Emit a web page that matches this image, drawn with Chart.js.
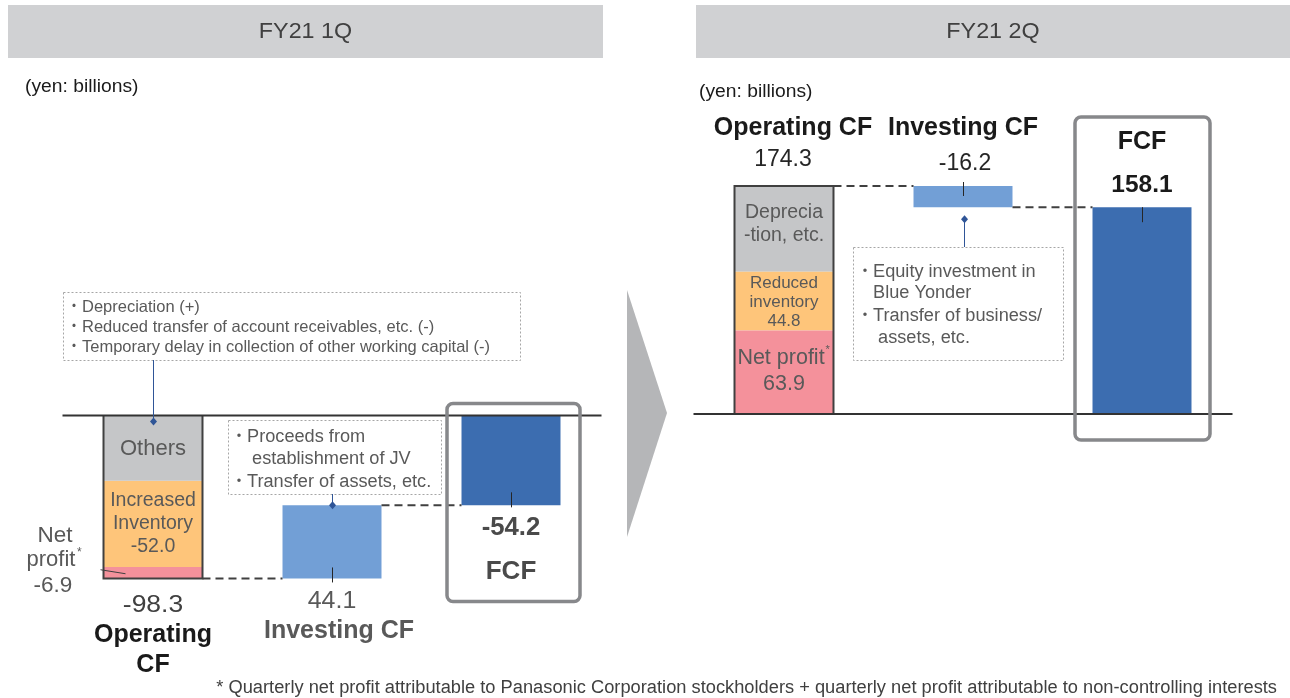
<!DOCTYPE html>
<html><head><meta charset="utf-8">
<script src="https://cdn.jsdelivr.net/npm/chart.js@4.4.1/dist/chart.umd.min.js"></script>
<style>
body{margin:0;background:#fff}
#wrap{position:relative;width:1290px;height:698px;overflow:hidden}
#wrap canvas{position:absolute;left:0;top:0}
</style></head>
<body><div id="wrap"><canvas id="c0" width="1290" height="698"></canvas><canvas id="c1" width="1290" height="698"></canvas></div>
<script>
// ---- data ----
const periods = ['FY21 1Q', 'FY21 2Q'];
const categories = ['Operating CF', 'Investing CF', 'FCF'];
const operatingCF = [-98.3, 174.3];
const netProfit = [-6.9, 63.9];
const inventoryChange = [-52.0, 44.8];
const investingCF = [44.1, -16.2];
const freeCF = [-54.2, 158.1];
const otherLabels = [['Others'], ['Deprecia', '-tion, etc.']];
const inventoryLabels = [['Increased', 'Inventory'], ['Reduced', 'inventory']];
const operatingNotes = ['Depreciation (+)', 'Reduced transfer of account receivables, etc. (-)', 'Temporary delay in collection of other working capital (-)'];
const investingNotes1Q = [['Proceeds from', 'establishment of JV'], ['Transfer of assets, etc.']];
const investingNotes2Q = [['Equity investment in', 'Blue Yonder'], ['Transfer of business/', ' assets, etc.']];
const footnote = '* Quarterly net profit attributable to Panasonic Corporation stockholders + quarterly net profit attributable to non-controlling interests';

const COLORS = {other:'#c5c6c8', inv:'#fec57a', np:'#f4919b', invest:'#729fd6', fcf:'#3c6db0'};
const FONT = '"Liberation Sans", Arial, "Noto Sans CJK JP", sans-serif';

function segments(p){
  const other = +(operatingCF[p] - netProfit[p] - inventoryChange[p]).toFixed(1);
  const parts = p === 0
    ? [['other', other], ['inv', inventoryChange[p]], ['np', netProfit[p]]]
    : [['np', netProfit[p]], ['inv', inventoryChange[p]], ['other', other]];
  let acc = 0;
  return parts.map(([k, v]) => { const s = acc; acc = +(acc + v).toFixed(1); return {k, range:[s, acc]}; });
}

function txt(ctx, s, x, y, o={}){
  const size = o.size || 16;
  const sx = o.sx || 1;
  ctx.save();
  ctx.font = (o.bold ? 'bold ' : '') + size + 'px ' + FONT;
  ctx.fillStyle = o.color || '#404040';
  ctx.textAlign = o.align || 'center';
  ctx.textBaseline = 'middle';
  ctx.translate(x, y);
  ctx.scale(sx, 1);
  ctx.fillText(s, 0, 0);
  const w = ctx.measureText(s).width * sx;
  ctx.restore();
  return w;
}
function bar(chart, ds, j){
  const el = chart.getDatasetMeta(ds).data[j];
  const top = Math.min(el.y, el.base), bottom = Math.max(el.y, el.base);
  return {cx: el.x, left: el.x - el.width/2, right: el.x + el.width/2, top, bottom};
}
function dotted(ctx, x, y, w, h){
  ctx.save(); ctx.strokeStyle = '#a6a6a6'; ctx.lineWidth = 1; ctx.setLineDash([2,2]);
  ctx.strokeRect(Math.round(x)+0.5, Math.round(y)+0.5, w, h); ctx.restore();
}
function dashed(ctx, x1, x2, y){
  ctx.save(); ctx.strokeStyle = '#404040'; ctx.lineWidth = 2; ctx.setLineDash([8,5]);
  ctx.beginPath(); ctx.moveTo(x1, y); ctx.lineTo(x2, y); ctx.stroke(); ctx.restore();
}
function tick(ctx, x, y1, y2){
  ctx.save(); ctx.strokeStyle = '#262626'; ctx.lineWidth = 1;
  ctx.beginPath(); ctx.moveTo(Math.round(x)+0.5, y1); ctx.lineTo(Math.round(x)+0.5, y2); ctx.stroke(); ctx.restore();
}
function connector(ctx, x, y1, y2){
  ctx.save(); ctx.strokeStyle = '#2f5597'; ctx.fillStyle = '#2f5597'; ctx.lineWidth = 1;
  const xx = Math.round(x)+0.5;
  ctx.beginPath(); ctx.moveTo(xx, y1); ctx.lineTo(xx, y2); ctx.stroke();
  ctx.beginPath(); ctx.moveTo(xx, y2-4); ctx.lineTo(xx+3.5, y2); ctx.lineTo(xx, y2+4); ctx.lineTo(xx-3.5, y2); ctx.closePath(); ctx.fill();
  ctx.restore();
}
function roundBox(ctx, x, y, w, h, r){
  ctx.save(); ctx.strokeStyle = '#87888b'; ctx.lineWidth = 3.5;
  ctx.beginPath(); ctx.roundRect(x, y, w, h, r); ctx.stroke(); ctx.restore();
}
function header(ctx, x, w, label){
  ctx.save(); ctx.fillStyle = '#d0d1d3'; ctx.fillRect(x, 5, w, 53); ctx.restore();
  txt(ctx, label, x + w/2, 32, {size:22, color:'#404040', sx:1.06});
}
function bullets(ctx, items, x, ys, size){
  let k = 0;
  items.forEach(item => {
    item.forEach((line, i) => {
      if (i === 0) txt(ctx, '・', x - 8, ys[k], {size: size - 2, color:'#595959'});
      txt(ctx, line, x, ys[k], {size, color:'#595959', align:'left', sx:1.01});
      k++;
    });
  });
}

function drawOverlay(chart, p){
  const ctx = chart.ctx;
  const ys = chart.scales.y;
  const y0 = ys.getPixelForValue(0);
  const segs = segments(p);
  const segBars = segs.map((s, i) => bar(chart, i, 0));
  const fi = segs.length;
  const op = {cx: segBars[0].cx, left: segBars[0].left, right: segBars[0].right,
    top: Math.min(...segBars.map(b => b.top)), bottom: Math.max(...segBars.map(b => b.bottom))};
  const inv = bar(chart, fi, 1), fcf = bar(chart, fi, 2);
  const yOp = ys.getPixelForValue(operatingCF[p]);
  const yF = ys.getPixelForValue(freeCF[p]);
  const area = chart.chartArea;

  // operating bar outline
  ctx.save(); ctx.strokeStyle = '#404040'; ctx.lineWidth = 2;
  ctx.beginPath();
  if (p === 0){ ctx.moveTo(op.left, op.top); ctx.lineTo(op.left, op.bottom); ctx.lineTo(op.right, op.bottom); ctx.lineTo(op.right, op.top); }
  else { ctx.moveTo(op.left, op.bottom); ctx.lineTo(op.left, op.top); ctx.lineTo(op.right, op.top); ctx.lineTo(op.right, op.bottom); }
  ctx.stroke(); ctx.restore();

  // zero line
  ctx.save(); ctx.strokeStyle = '#333333'; ctx.lineWidth = 2;
  ctx.beginPath(); ctx.moveTo(area.left - 1, y0); ctx.lineTo(area.right + 1, y0); ctx.stroke(); ctx.restore();

  // dashed connectors
  dashed(ctx, op.right, inv.left, yOp);
  dashed(ctx, inv.right, fcf.left, yF);

  const segCenter = k => { const i = segs.findIndex(s => s.k === k); return (segBars[i].top + segBars[i].bottom)/2; };
  const gray = '#595959';
  if (p === 0){
    txt(ctx, otherLabels[0][0], op.cx, segCenter('other') + 1, {size:22, color:gray});
    const c = segCenter('inv');
    txt(ctx, inventoryLabels[0][0], op.cx, c - 23, {size:19.5, color:gray});
    txt(ctx, inventoryLabels[0][1], op.cx, c, {size:19.5, color:gray});
    txt(ctx, inventoryChange[0].toFixed(1), op.cx, c + 23, {size:19.5, color:gray});
    // net profit external label
    const npY = segCenter('np');
    txt(ctx, 'Net', 55, npY - 37, {size:22.5, color:gray});
    const w = txt(ctx, 'profit', 51, npY - 13, {size:22, color:gray});
    txt(ctx, '*', 51 + w/2 + 4, npY - 20, {size:12, color:gray});
    txt(ctx, netProfit[0].toFixed(1), 53, npY + 13, {size:22.5, color:gray});
    ctx.save(); ctx.strokeStyle = '#404040'; ctx.lineWidth = 1;
    ctx.beginPath(); ctx.moveTo(op.left - 3, npY - 3); ctx.lineTo(op.left + 22, npY + 1); ctx.stroke(); ctx.restore();

    // labels below bars
    txt(ctx, operatingCF[0].toFixed(1), op.cx, op.bottom + 27, {size:23, color:'#404040', sx:1.15});
    txt(ctx, 'Operating', op.cx, op.bottom + 57, {size:25, bold:true, color:'#1a1a1a'});
    txt(ctx, 'CF', op.cx, op.bottom + 87, {size:25, bold:true, color:'#1a1a1a'});
    txt(ctx, investingCF[0].toFixed(1), inv.cx, inv.bottom + 23, {size:24, color:gray, sx:1.04});
    txt(ctx, categories[1], inv.cx + 7, inv.bottom + 53, {size:25, bold:true, color:gray});
    txt(ctx, freeCF[0].toFixed(1), fcf.cx, fcf.bottom + 23, {size:25, bold:true, color:'#4a4a4a', sx:1.03});
    txt(ctx, categories[2], fcf.cx, fcf.bottom + 66, {size:26, bold:true, color:'#4a4a4a'});

    tick(ctx, inv.cx, inv.bottom - 11, inv.bottom + 4);
    tick(ctx, fcf.cx, fcf.bottom - 13, fcf.bottom + 2);

    roundBox(ctx, fcf.cx - 64, y0 - 12, 133, 198, 6);

    dotted(ctx, 63, 292, 457, 68);
    operatingNotes.forEach((s, i) => {
      txt(ctx, '・', 74, 307 + i*20, {size:15, color:gray});
      txt(ctx, s, 82, 307 + i*20, {size:16.5, color:gray, align:'left'});
    });
    connector(ctx, op.cx, 360, y0 + 6);
    dotted(ctx, 228, 420, 213, 74);
    bullets(ctx, [[investingNotes1Q[0][0], ' ' + investingNotes1Q[0][1]], investingNotes1Q[1]], 247, [437, 459, 482], 18);
    connector(ctx, inv.cx, 494, inv.top);

    // page-level items
    header(ctx, 8, 595, periods[0]);
    txt(ctx, '(yen: billions)', 25, 87, {size:18, color:'#1a1a1a', align:'left', sx:1.07});
    ctx.save(); ctx.fillStyle = '#b5b6b8';
    ctx.beginPath(); ctx.moveTo(627, 290); ctx.lineTo(667, 413); ctx.lineTo(627, 537); ctx.closePath(); ctx.fill(); ctx.restore();
    txt(ctx, footnote, 1277, 688, {size:18, color:'#404040', align:'right', sx:1.015});
  } else {
    const cd = segCenter('other') - 5;
    txt(ctx, otherLabels[1][0], op.cx, cd - 11, {size:19.5, color:gray});
    txt(ctx, otherLabels[1][1], op.cx, cd + 12, {size:19.5, color:gray});
    const ci = segCenter('inv') + 1;
    txt(ctx, inventoryLabels[1][0], op.cx, ci - 19, {size:17, color:gray});
    txt(ctx, inventoryLabels[1][1], op.cx, ci, {size:17, color:gray});
    txt(ctx, inventoryChange[1].toFixed(1), op.cx, ci + 19, {size:17, color:gray});
    const cn = segCenter('np') - 1;
    const w = txt(ctx, 'Net profit', op.cx - 3, cn - 13, {size:21.5, color:gray});
    txt(ctx, '*', op.cx - 3 + w/2 + 3, cn - 21, {size:11, color:gray});
    txt(ctx, netProfit[1].toFixed(1), op.cx, cn + 13, {size:21.5, color:gray});

    txt(ctx, categories[0], op.cx + 9, op.top - 58, {size:25, bold:true, color:'#1a1a1a'});
    txt(ctx, operatingCF[1].toFixed(1), op.cx - 1, op.top - 26, {size:23, color:'#262626'});
    txt(ctx, categories[1], inv.cx, inv.top - 58, {size:25, bold:true, color:'#1a1a1a'});
    txt(ctx, investingCF[1].toFixed(1), inv.cx + 2, inv.top - 22, {size:23, color:'#262626'});
    txt(ctx, categories[2], fcf.cx, fcf.top - 65, {size:25, bold:true, color:'#1a1a1a'});
    txt(ctx, freeCF[1].toFixed(1), fcf.cx, fcf.top - 22, {size:24.5, bold:true, color:'#1a1a1a'});

    tick(ctx, inv.cx, inv.top - 4, inv.top + 10);
    tick(ctx, fcf.cx, fcf.top, fcf.top + 15);

    roundBox(ctx, fcf.cx - 67, 117, 135, 323, 6);

    dotted(ctx, 853, 247, 210, 113);
    bullets(ctx, investingNotes2Q, 873, [272, 293, 316, 338], 18);
    connector(ctx, inv.cx + 1, 247, inv.bottom + 12);

    header(ctx, 696, 594, periods[1]);
    txt(ctx, '(yen: billions)', 699, 92, {size:18, color:'#1a1a1a', align:'left', sx:1.07});
  }
}

function build(p, canvasId, pad, yMin, yMax){
  const segs = segments(p);
  const datasets = segs.map(s => ({
    label: s.k, data: [s.range, null, null], backgroundColor: COLORS[s.k],
    borderWidth: 0, borderSkipped: false
  }));
  datasets.push({
    label: 'flows',
    data: [null, [operatingCF[p], +(operatingCF[p] + investingCF[p]).toFixed(1)], [0, freeCF[p]]],
    backgroundColor: [COLORS.fcf, COLORS.invest, COLORS.fcf], borderWidth: 0, borderSkipped: false
  });
  return new Chart(document.getElementById(canvasId), {
    type: 'bar',
    data: {labels: categories, datasets},
    options: {
      responsive: false, animation: false, devicePixelRatio: 1,
      layout: {padding: pad},
      barPercentage: 0.553, categoryPercentage: 1.0,
      plugins: {legend: {display: false}, tooltip: {enabled: false}},
      scales: {
        x: {display: false, stacked: true, grid: {display: false}},
        y: {display: false, stacked: false, min: yMin, max: yMax, grid: {display: false}}
      }
    },
    plugins: [{id: 'overlay' + p, afterDatasetsDraw(chart){ drawOverlay(chart, p); }}]
  });
}

build(0, 'c0', {left: 63.5, right: 689.5, top: 0, bottom: 0}, -170.4, 250.6);
build(1, 'c1', {left: 694.5, right: 58.5, top: 0, bottom: 0}, -217.1, 316.5);
</script></body></html>
